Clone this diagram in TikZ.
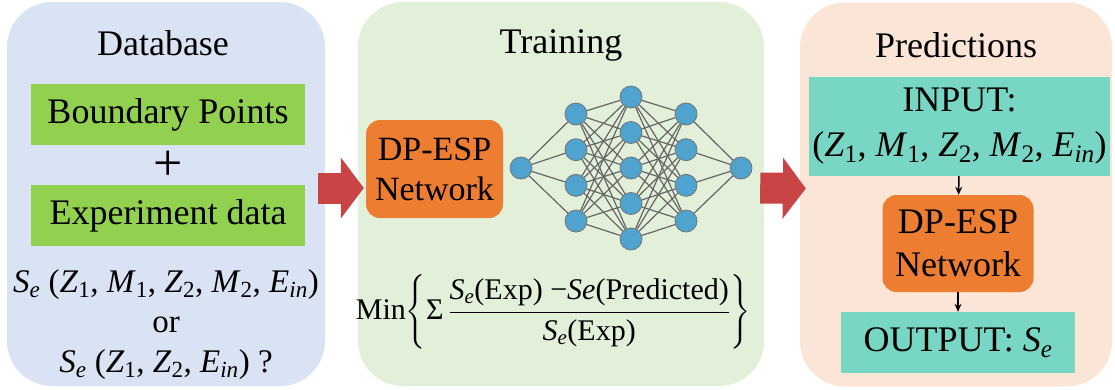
\RequirePackage{fix-cm}
\documentclass[tikz,border=0pt]{standalone}
\usepackage{amsmath}
\usepackage{fontspec}
\setmainfont{Liberation Serif}
\newfontfamily\tnr{Liberation Serif}
\usetikzlibrary{positioning,arrows.meta,calc}

\definecolor{dbblue}{HTML}{DAE3F3}
\definecolor{trgreen}{HTML}{E2F0D9}
\definecolor{prorange}{HTML}{FBE5D6}
\definecolor{boxgreen}{HTML}{92D050}
\definecolor{netorange}{HTML}{ED7D31}
\definecolor{ioteal}{HTML}{77D7C4}
\definecolor{arrowred}{HTML}{C94444}
\definecolor{neuronblue}{HTML}{4FA3CE}

\newcommand{\var}[2]{\textit{#1}\textsubscript{#2}}
\newcommand{\bigtxt}{\tnr\fontsize{36}{40}\selectfont}

\tikzset{panel/.style={rounded corners=45pt,inner sep=0pt,minimum height=384pt}}
\tikzset{databox/.style={fill=boxgreen,minimum width=274pt,minimum height=61pt,inner sep=0pt}}
\tikzset{netbox/.style={fill=netorange,rounded corners=14pt,align=center,inner sep=0pt}}
\tikzset{iobox/.style={fill=ioteal,align=center,inner sep=0pt}}
\tikzset{neuron/.style={circle,fill=neuronblue,draw=black!55,line width=0.8pt,minimum size=22pt,inner sep=0pt}}
\tikzset{synapse/.style={draw=black!60,line width=1.2pt}}
\tikzset{bigarrow/.style={draw=arrowred,line width=31pt,-{Triangle[length=23pt,width=60pt]}}}
\tikzset{smallarrow/.style={-{Stealth[length=8pt,width=7pt]},line width=1.5pt}}

\begin{document}
\begin{tikzpicture}[x=1pt,y=-1pt,font=\bigtxt]
  \useasboundingbox (0,0) rectangle (1115,389);

  % three panels
  \node[panel,fill=dbblue,minimum width=318pt] (db) at (166,194) {};
  \node[panel,fill=trgreen,minimum width=406pt] (train) at (561,194) {};
  \node[panel,fill=prorange,minimum width=312pt] (pred) at (956,194.5) {};

  \node (dbtitle) at (163,43) {Database};
  \node (trtitle) at (561,45) {Training};
  \node (prtitle) at (956,45) {Predictions};

  % database
  \node[databox] (bp) at (168,114.5) {Boundary Points};
  \node[databox] (ed) at (168,215.5) {Experiment data};
  \node[font=\tnr\fontsize{52}{52}\selectfont,inner sep=0pt] (plus) at (168,166) {+};
  \node[align=center,inner sep=0pt,font=\tnr\fontsize{33}{40}\selectfont] (se) at (166,325)
    {\var{S}{\textit{e}} (\var{Z}{1}, \var{M}{1}, \var{Z}{2}, \var{M}{2}, \var{E}{\textit{in}})\\
     or\\
     \var{S}{\textit{e}} (\var{Z}{1}, \var{Z}{2}, \var{E}{\textit{in}}) ?};

  % training
  \node[netbox,minimum width=137pt,minimum height=98pt,font=\tnr\fontsize{34}{40}\selectfont] (trnet) at (434.5,169) {DP-ESP\\Network};

  \node[neuron] (in) at (521,168) {};
  \foreach \i in {1,...,4} {
    \node[neuron] (ha\i) at (576,{114+35.67*(\i-1)}) {};
    \node[neuron] (hc\i) at (686,{114+35.67*(\i-1)}) {};
  }
  \foreach \j in {1,...,5}
    \node[neuron] (hb\j) at (631,{97+35.5*(\j-1)}) {};
  \node[neuron] (out) at (741,168) {};

  \foreach \i in {1,...,4} {
    \draw[synapse] (in) -- (ha\i);
    \draw[synapse] (hc\i) -- (out);
    \foreach \j in {1,...,5} {
      \draw[synapse] (ha\i) -- (hb\j);
      \draw[synapse] (hb\j) -- (hc\i);
    }
  }

  \node[font=\tnr\fontsize{30}{34}\selectfont,inner sep=0pt] (loss) at (553,312)
    {$\displaystyle \text{Min}\!\left\{\text{Σ}\,\frac{\text{\var{S}{\textit{e}}(Exp) −\textit{Se}(Predicted)}}{\text{\var{S}{\textit{e}}(Exp)}}\right\}$};

  % predictions
  \node[iobox,minimum width=301pt,minimum height=99pt,font=\tnr\fontsize{36}{45}\selectfont] (input) at (959.5,126.5)
    {INPUT:\\(\var{Z}{1}, \var{M}{1}, \var{Z}{2}, \var{M}{2}, \var{E}{\textit{in}})};
  \node[netbox,minimum width=151pt,minimum height=97pt,font=\tnr\fontsize{36}{43}\selectfont] (prnet) at (958,243.5) {DP-ESP\\Network};
  \node[iobox,minimum width=234pt,minimum height=61pt] (output) at (958,342.5) {OUTPUT: \var{S}{\textit{e}}};

  \draw[smallarrow] (input) -- (prnet);
  \draw[smallarrow] (prnet) -- (output);

  % big arrows between panels
  \draw[bigarrow] ($(db.east)+(-7,-6)$) -- ($(train.west)+(6,-6)$);
  \draw[bigarrow] ($(train.east)+(-4,-6)$) -- ($(pred.west)+(6,-6)$);
\end{tikzpicture}
\end{document}
